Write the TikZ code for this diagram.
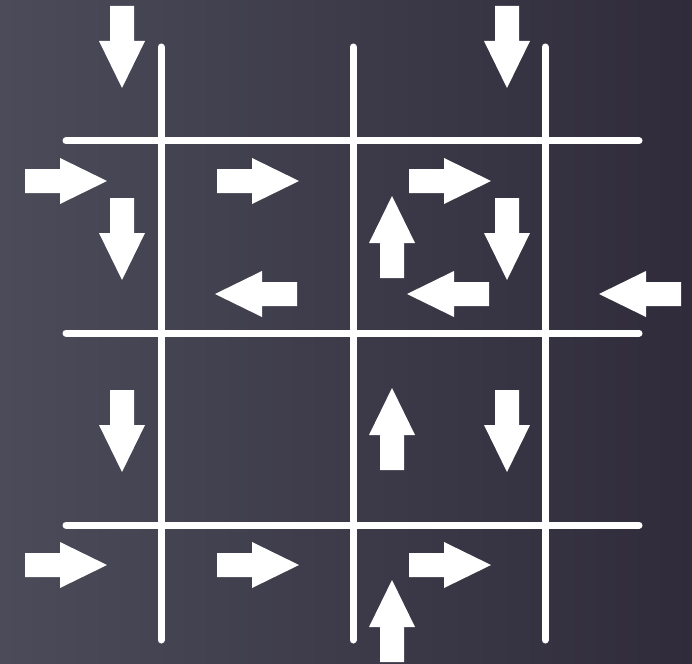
\documentclass[tikz,border=0pt]{standalone}
\usetikzlibrary{calc}
\definecolor{bgleft}{HTML}{4B4B5A}
\definecolor{bgright}{HTML}{2F2B3A}
\tikzset{
  gridline/.style={white, line width=7pt, line cap=round},
  blockarrow/.pic={
    \fill[white] (0,-12) -- (35,-12) -- (35,-23) -- (82,0) -- (35,23) -- (35,12) -- (0,12) -- cycle;
  }
}
\begin{document}
\begin{tikzpicture}[x=1pt,y=-1pt]
\shade[left color=bgleft, right color=bgright] (0,0) rectangle (692,663);
\useasboundingbox (0,0) rectangle (692,663);
% grid
\foreach \x/\n in {161/va,353/vb,545/vc}{
  \coordinate (\n1) at (\x,47); \coordinate (\n2) at (\x,640);
  \draw[gridline] (\n1) -- (\n2);
}
\foreach \y/\n in {141/ha,333/hb,525/hc}{
  \coordinate (\n1) at (66,\y); \coordinate (\n2) at (639,\y);
  \draw[gridline] (\n1) -- (\n2);
}
% down arrows (start point at top)
\foreach \x/\y in {122/6,507/6,122/198,507/198,122/390,507/390}{
  \pic[rotate=-90] at (\x,\y) {blockarrow};
}
% up arrows (start point at bottom)
\foreach \x/\y in {392/278,392/470,392/662}{
  \pic[rotate=90] at (\x,\y) {blockarrow};
}
% right arrows
\foreach \x/\y in {25/181,217/181,409/181,25/565,217/565,409/565}{
  \pic at (\x,\y) {blockarrow};
}
% left arrows
\foreach \x/\y in {297/294,489/294,681/294}{
  \pic[rotate=180] at (\x,\y) {blockarrow};
}
\end{tikzpicture}
\end{document}
